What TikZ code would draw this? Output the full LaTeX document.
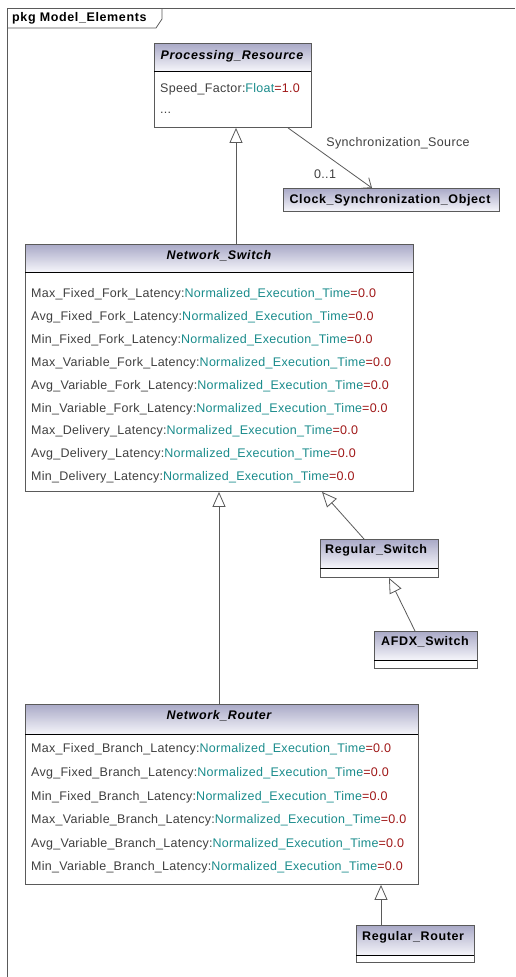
\documentclass[tikz,border=0pt]{standalone}
\usepackage{fontspec}
\setmainfont{Liberation Sans}
\newfontfamily\attrfont[LetterSpace=2.2]{Liberation Sans}
\newfontfamily\titlefont[LetterSpace=5]{Liberation Sans}
\newfontfamily\lblfont[LetterSpace=3]{Liberation Sans}
\usetikzlibrary{arrows.meta,calc}
\definecolor{txtgrey}{HTML}{404040}
\definecolor{typeteal}{HTML}{1A8C8C}
\definecolor{valred}{HTML}{A01818}
\definecolor{linegrey}{HTML}{5A5A5A}
\definecolor{hdrtop}{HTML}{A8A8C6}
\definecolor{hdrbot}{HTML}{F2F2F8}
\tikzset{
  classbox/.style={draw=linegrey, line width=0.9pt, inner sep=0pt, anchor=north west},
  attr/.style={anchor=west, inner sep=0pt, font=\attrfont\fontsize{12.5}{14}\selectfont, text=txtgrey},
  ctitle/.style={inner sep=0pt, font=\titlefont\fontsize{12.5}{14}\selectfont\bfseries\itshape, text=black},
  btitle/.style={inner sep=0pt, font=\titlefont\fontsize{12.5}{14}\selectfont\bfseries, text=black},
  lbl/.style={inner sep=0pt, font=\lblfont\fontsize{12.5}{14}\selectfont, text=txtgrey},
  gen/.style={draw=linegrey, line width=0.8pt, -{Triangle[fill=white, length=15pt, width=13pt]}},
  assoc/.style={draw=linegrey, line width=0.8pt, -{Straight Barb[length=8pt, width=13pt]}},
  divider/.style={draw=black, line width=0.9pt}
}
\newcommand{\att}[3]{#1:{\color{typeteal}#2}{\color{valred}=#3}}
% vertical gradient: darker at top (y1), lighter at bottom (y2); y grows downwards
\newcommand{\hdrgrad}[4]{%
  \pgfmathtruncatemacro{\hn}{#4-#2-1}%
  \foreach \k in {0,...,\hn}{%
    \pgfmathtruncatemacro{\pc}{100-100*\k/\hn}%
    \fill[hdrtop!\pc!hdrbot] (#1,#2+\k) rectangle (#3,#2+\k+1.1);
  }%
}
\begin{document}
\begin{tikzpicture}[x=1pt,y=-1pt]
\useasboundingbox (0,0) rectangle (515,977);
\fill[white] (0,0) rectangle (515,977);
% frame
\draw[linegrey, line width=0.8pt] (7,977) -- (7,8) -- (515,8);
\draw[linegrey, line width=0.8pt] (7,28) -- (156,28) -- (162,19) -- (162,8);
\node[anchor=west, inner sep=0pt, font=\titlefont\fontsize{12.5}{14}\selectfont\bfseries] (frametitle) at (12,18) {pkg Model\_Elements};

% Processing_Resource
\hdrgrad{154}{43}{311}{71}
\node[classbox, minimum width=157pt, minimum height=84pt] (pr) at (154,43) {};
\draw[divider] (154,71) -- (311,71);
\node[ctitle] (prt) at (232,56) {Processing\_Resource};
\node[attr] (pra1) at (160,89) {\att{Speed\_Factor}{Float}{1.0}};
\node[attr] (pra2) at (160,113) {...};

% Clock_Synchronization_Object
\hdrgrad{283}{188}{499}{211}
\node[classbox, minimum width=216pt, minimum height=23pt] (cso) at (283,188) {};
\node[btitle] (csot) at (390,200) {Clock\_Synchronization\_Object};

% Network_Switch
\hdrgrad{25}{244}{413}{272}
\node[classbox, minimum width=388pt, minimum height=247pt] (ns) at (25,244) {};
\draw[divider] (25,272) -- (413,272);
\node[ctitle] (nst) at (219,256) {Network\_Switch};
\node[attr] (ns1) at (31,294) {\att{Max\_Fixed\_Fork\_Latency}{Normalized\_Execution\_Time}{0.0}};
\node[attr] (ns2) at (31,317) {\att{Avg\_Fixed\_Fork\_Latency}{Normalized\_Execution\_Time}{0.0}};
\node[attr] (ns3) at (31,340) {\att{Min\_Fixed\_Fork\_Latency}{Normalized\_Execution\_Time}{0.0}};
\node[attr] (ns4) at (31,363) {\att{Max\_Variable\_Fork\_Latency}{Normalized\_Execution\_Time}{0.0}};
\node[attr] (ns5) at (31,386) {\att{Avg\_Variable\_Fork\_Latency}{Normalized\_Execution\_Time}{0.0}};
\node[attr] (ns6) at (31,409) {\att{Min\_Variable\_Fork\_Latency}{Normalized\_Execution\_Time}{0.0}};
\node[attr] (ns7) at (31,431) {\att{Max\_Delivery\_Latency}{Normalized\_Execution\_Time}{0.0}};
\node[attr] (ns8) at (31,454) {\att{Avg\_Delivery\_Latency}{Normalized\_Execution\_Time}{0.0}};
\node[attr] (ns9) at (31,477) {\att{Min\_Delivery\_Latency}{Normalized\_Execution\_Time}{0.0}};

% Regular_Switch
\hdrgrad{320}{539}{438}{568}
\node[classbox, minimum width=118pt, minimum height=38pt] (rs) at (320,539) {};
\draw[divider] (320,568) -- (438,568);
\node[btitle, anchor=west] (rst) at (325,550) {Regular\_Switch};

% AFDX_Switch
\hdrgrad{374}{631}{477}{660}
\node[classbox, minimum width=103pt, minimum height=37pt] (afdx) at (374,631) {};
\draw[divider] (374,660) -- (477,660);
\node[btitle, anchor=west] (afdxt) at (381,642) {AFDX\_Switch};

% Network_Router
\hdrgrad{25}{704}{418}{734}
\node[classbox, minimum width=393pt, minimum height=180pt] (nr) at (25,704) {};
\draw[divider] (25,734) -- (418,734);
\node[ctitle] (nrt) at (219,716) {Network\_Router};
\node[attr] (nr1) at (31,749) {\att{Max\_Fixed\_Branch\_Latency}{Normalized\_Execution\_Time}{0.0}};
\node[attr] (nr2) at (31,773) {\att{Avg\_Fixed\_Branch\_Latency}{Normalized\_Execution\_Time}{0.0}};
\node[attr] (nr3) at (31,797) {\att{Min\_Fixed\_Branch\_Latency}{Normalized\_Execution\_Time}{0.0}};
\node[attr] (nr4) at (31,820) {\att{Max\_Variable\_Branch\_Latency}{Normalized\_Execution\_Time}{0.0}};
\node[attr] (nr5) at (31,844) {\att{Avg\_Variable\_Branch\_Latency}{Normalized\_Execution\_Time}{0.0}};
\node[attr] (nr6) at (31,867) {\att{Min\_Variable\_Branch\_Latency}{Normalized\_Execution\_Time}{0.0}};

% Regular_Router
\hdrgrad{356}{925}{474}{955}
\node[classbox, minimum width=118pt, minimum height=37pt] (rr) at (356,925) {};
\draw[divider] (356,955) -- (474,955);
\node[btitle, anchor=west] (rrt) at (362,937) {Regular\_Router};

% connectors
\draw[gen] ([xshift=211pt]ns.north west) -- ([xshift=82pt]pr.south west);
\draw[assoc] ([xshift=134pt]pr.south west) -- ([xshift=89pt]cso.north west);
\node[lbl] (assocname) at (398,143) {Synchronization\_Source};
\node[lbl] (mult) at (325,174) {0..1};
\draw[gen] ([xshift=44pt]rs.north west) -- ([xshift=297pt]ns.south west);
\draw[gen] ([xshift=41pt]afdx.north west) -- ([xshift=69pt]rs.south west);
\draw[gen] ([xshift=194pt]nr.north west) -- ([xshift=194pt]ns.south west);
\draw[gen] ([xshift=25pt]rr.north west) -- ([xshift=356pt]nr.south west);
\end{tikzpicture}
\end{document}
